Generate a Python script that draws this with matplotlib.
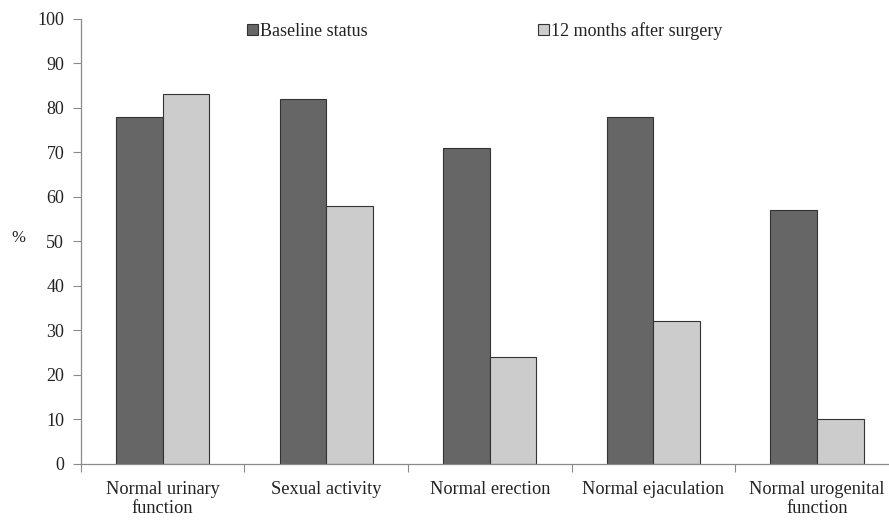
import numpy as np
import matplotlib.pyplot as plt

categories = ["Normal urinary\nfunction", "Sexual activity", "Normal erection",
              "Normal ejaculation", "Normal urogenital\nfunction"]
baseline = [78, 82, 71, 78, 57]
after_12m = [83, 58, 24, 32, 10]
series_names = ["Baseline status", "12 months after surgery"]

plt.rcParams['font.family'] = ['Liberation Serif', 'DejaVu Serif']

fig = plt.figure(figsize=(8.89, 5.2), dpi=100)
ax = fig.add_axes([0.091, 0.108, 0.92, 0.856])

x = np.arange(len(categories))
w = 0.285
ax.bar(x - w/2, baseline, w, color='#666666', edgecolor='#333333', linewidth=0.8,
       label=series_names[0])
ax.bar(x + w/2, after_12m, w, color='#cccccc', edgecolor='#333333', linewidth=0.8,
       label=series_names[1])

ax.set_xlim(-0.5, len(categories) - 0.5)
ax.set_ylim(0, 100)
ax.set_yticks(range(0, 101, 10))
ax.tick_params(axis='y', labelsize=13, colors='#8a8a8a', labelcolor='#222222',
               length=6, width=0.8, pad=6)

# category boundaries as major ticks, labels on minor ticks at centres
ax.set_xticks(np.arange(-0.5, len(categories)), labels=[])
ax.set_xticks(x, labels=categories, minor=True)
ax.tick_params(axis='x', which='major', length=6, width=0.8, colors='#8a8a8a')
ax.tick_params(axis='x', which='minor', length=0, labelsize=13.2,
               labelcolor='#222222', pad=12)
for lbl in ax.get_xticklabels(minor=True):
    lbl.set_linespacing(1.2)

for s in ['top', 'right']:
    ax.spines[s].set_visible(False)
for s in ['left', 'bottom']:
    ax.spines[s].set_color('#8a8a8a')
    ax.spines[s].set_linewidth(0.9)

ax.set_ylabel('%', rotation=0, fontsize=12, color='#222222')
ax.yaxis.set_label_coords(-0.077, 0.49)

ax.legend(loc='center left', bbox_to_anchor=(0.203, 0.973), ncol=2, frameon=False,
          fontsize=13, handlelength=0.6, handleheight=0.6, handletextpad=0.15,
          columnspacing=9.4, borderpad=0, borderaxespad=0, labelcolor='#222222')

fig.savefig('out.png', dpi=100)
